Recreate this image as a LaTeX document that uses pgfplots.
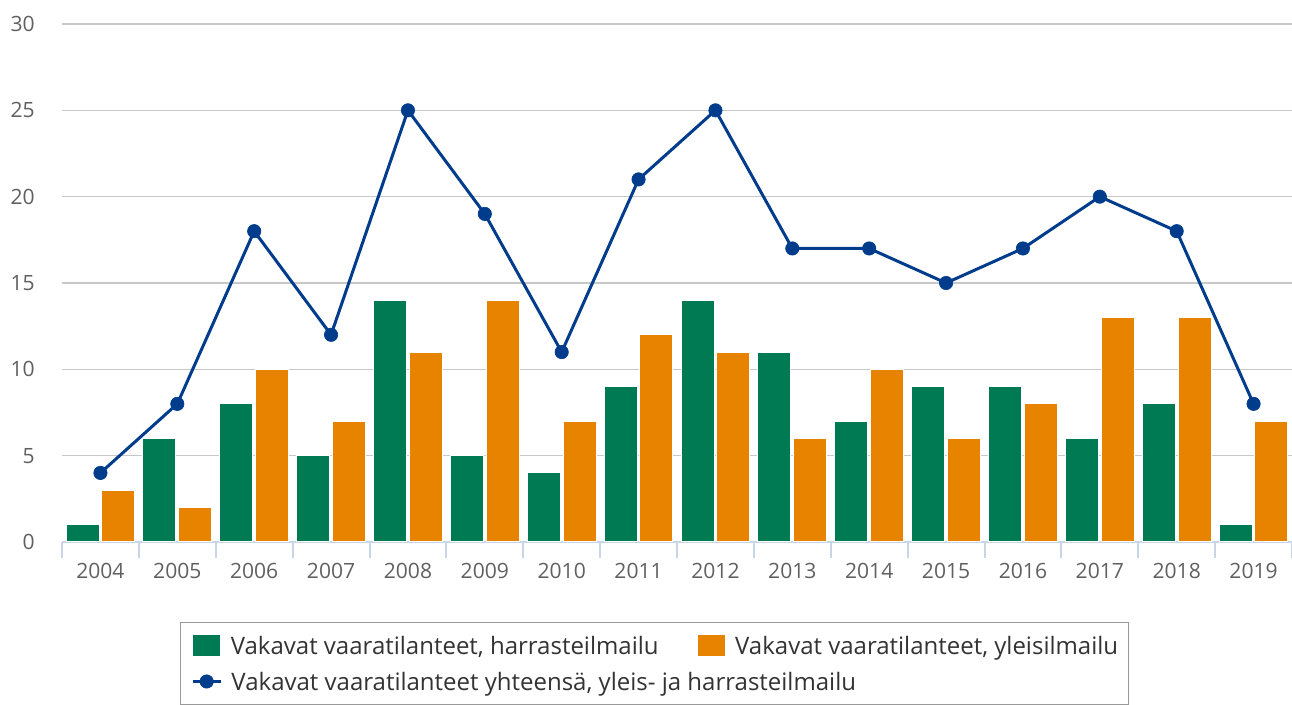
\documentclass[border=0pt]{standalone}
\usepackage{pgfplots}
\pgfplotsset{compat=1.18}
\usepackage{pgfplotstable}
\usepackage{fontspec}
\setmainfont{Open Sans}
\definecolor{cgreen}{RGB}{0,122,83}
\definecolor{corange}{RGB}{232,131,0}
\definecolor{cblue}{RGB}{0,60,140}
\definecolor{gridc}{RGB}{200,200,200}
\definecolor{axisc}{RGB}{200,214,232}
\definecolor{tickc}{RGB}{96,96,96}
\definecolor{textc}{RGB}{51,51,51}
\definecolor{legendc}{RGB}{153,153,153}
\pgfplotsset{
  barlegend/.style={legend image code/.code={\fill[##1] (0pt,-8.25pt) rectangle (21pt,8.25pt);}},
  linelegend/.style={legend image code/.code={\draw[mark repeat=2,mark phase=2,##1] plot coordinates {(0pt,0pt) (10.5pt,0pt) (21pt,0pt)};}},
}
\pgfplotstableread{
i  g  o  t
0  1  3  4
1  6  2  8
2  8  10 18
3  5  7  12
4  14 11 25
5  5  14 19
6  4  7  11
7  9  12 21
8  14 11 25
9  11 6  17
10 7  10 17
11 9  6  15
12 9  8  17
13 6  13 20
14 8  13 18
15 1  7  8
}\data
\begin{document}
\begin{tikzpicture}
\useasboundingbox (0,0) rectangle (969pt,528.75pt);
\begin{axis}[
  at={(46.5pt,122.25pt)}, anchor=south west,
  scale only axis, width=922.5pt, height=388.5pt,
  xmin=-0.5, xmax=15.5, ymin=0, ymax=30,
  axis x line*=bottom, axis y line*=left,
  y axis line style={draw=none},
  x axis line style={draw=axisc, line width=1.5pt, -},
  xtick={0,...,15},
  xticklabels={2004,2005,2006,2007,2008,2009,2010,2011,2012,2013,2014,2015,2016,2017,2018,2019},
  minor xtick={-0.5,0.5,...,15.5},
  ytick={0,5,...,30},
  major tick length=0pt,
  minor tick length=12pt,
  tick align=outside,
  minor tick style={draw=axisc, line width=1.5pt},
  ytick style={draw=none},
  ymajorgrids,
  grid style={draw=gridc, line width=1pt},
  /pgf/number format/assume math mode=true,
  every tick label/.append style={font=\fontsize{15.8}{18}\selectfont, text=tickc},
  xticklabel style={inner sep=0pt, anchor=north, yshift=-15.75pt},
  yticklabel style={inner sep=0pt, anchor=east, xshift=-20.25pt},
  legend columns=2,
  legend style={
    at={(0.09593,-0.15444)}, anchor=north west,
    draw=legendc, line width=0.75pt, fill=white,
    inner xsep=8pt, inner ysep=9pt,
    font=\fontsize{18}{21}\selectfont, text=textc,
    row sep=9.75pt,
    nodes={inner xsep=0pt, inner ysep=0pt, text height=15pt, text depth=1.5pt},
    /tikz/every odd column/.append style={column sep=6.5pt},
    /tikz/every even column/.append style={column sep=0pt},
  },
  legend cell align=left,
]
\addplot[ybar, bar width=24.75pt, bar shift=-13.4pt, fill=cgreen, draw=white, line width=0.75pt, barlegend]
  table[x=i,y=g]{\data};
\addlegendentry{\makebox[350pt][l]{Vakavat vaaratilanteet, harrasteilmailu}}
\addplot[ybar, bar width=24.75pt, bar shift=13.4pt, fill=corange, draw=white, line width=0.75pt, barlegend]
  table[x=i,y=o]{\data};
\addlegendentry{Vakavat vaaratilanteet, yleisilmailu}
\addplot[cblue, line width=2.25pt, mark=*, mark size=5pt, mark options={fill=cblue, draw=cblue, line width=0.5pt, solid}, linelegend]
  table[x=i,y=t]{\data};
\addlegendentry{\makebox[0pt][l]{Vakavat vaaratilanteet yhteensä, yleis- ja harrasteilmailu}}
\end{axis}
\end{tikzpicture}
\end{document}
